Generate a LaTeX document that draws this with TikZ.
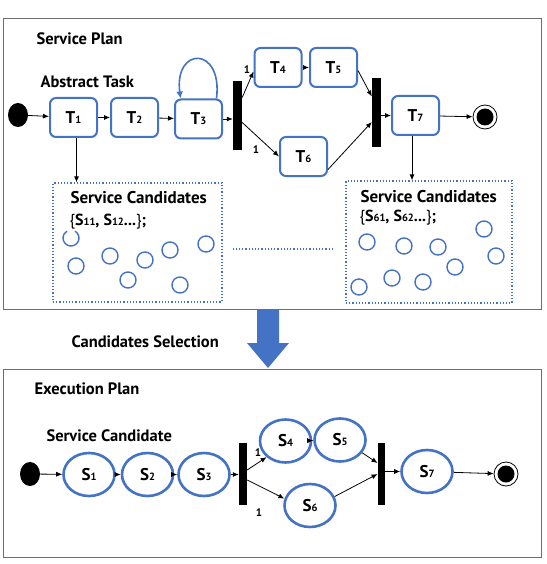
\documentclass[tikz,border=0pt]{standalone}
\usepackage{fontspec}
\setmainfont{PT Sans}
\usetikzlibrary{arrows.meta,shapes.geometric}
\definecolor{obl}{RGB}{68,114,196}
\definecolor{frm}{RGB}{110,110,110}
\newcommand\sbs[1]{{\fontsize{10.5}{10.5}\selectfont #1}}
\newcommand\lbr{{\mdseries\{}}
\newcommand\rbr{{\mdseries\}}}
\begin{document}
\begin{tikzpicture}[x=1pt,y=-1pt,
  every node/.style={font=\bfseries},
  title/.style={anchor=west,font=\bfseries\fontsize{16.5}{16.5}\selectfont},
  task/.style={draw=obl,line width=2pt,rounded corners=6pt,minimum width=47pt,minimum height=39pt,inner sep=0pt,font=\bfseries\fontsize{17}{17}\selectfont},
  svc/.style={draw=obl,line width=2.6pt,ellipse,minimum width=51pt,minimum height=43pt,inner sep=0pt,font=\bfseries\fontsize{17}{17}\selectfont},
  barr/.style={fill=black,inner sep=0pt,minimum width=9pt,minimum height=69pt},
  startn/.style={ellipse,fill=black,inner sep=0pt,minimum width=20pt,minimum height=24pt},
  endn/.style={circle,draw=black,line width=0.8pt,inner sep=0pt,minimum size=24pt,path picture={\fill[black] (path picture bounding box.center) circle (8.5pt);}},
  arr/.style={-{Latex[length=6pt,width=5pt]},line width=0.8pt},
  cbox/.style={draw=obl,dotted,line width=1.2pt,inner sep=0pt},
  cand/.style={draw=obl,line width=1.4pt},
  lbl/.style={font=\bfseries\fontsize{11}{11}\selectfont,inner sep=0pt}
]
\useasboundingbox (0,0) rectangle (546,564);
% frames
\draw[frm,line width=1pt] (3,19) rectangle (541,309);
\draw[frm,line width=1pt] (3,369) rectangle (541,557);
% titles
\node[title] (tsp) at (33,39) {Service Plan};
\node[title] (tat) at (37,82) {Abstract Task};
\node[title] (tcs) at (68,342) {Candidates Selection};
\node[title] (tep) at (31,389) {Execution Plan};
\node[title] (tsc) at (43,436) {Service Candidate};
% top plan
\node[startn] (st) at (18,115) {};
\node[task] (t1) at (73.5,117.5) {T\sbs{1}};
\node[task] (t2) at (134.5,117.5) {T\sbs{2}};
\node[task] (t3) at (198.5,119) {T\sbs{3}};
\node[barr] (b1) at (237.5,115.5) {};
\node[task] (t4) at (278,67.5) {T\sbs{4}};
\node[task] (t5) at (333.5,67.5) {T\sbs{5}};
\node[task] (t6) at (303.5,156.5) {T\sbs{6}};
\node[barr] (b2) at (376.5,112.5) {};
\node[task] (t7) at (415.5,115.5) {T\sbs{7}};
\node[endn] (en) at (485,117) {};
\draw[arr] (st) -- (t1);
\draw[arr] (t1) -- (t2);
\draw[arr] (t2) -- (t3);
\draw[arr] (t3.east) -- (t3.east -| b1.west);
\draw[arr] ([yshift=18pt]b1.east) -- ([yshift=-4pt]t4.west);
\draw[arr] ([yshift=-7pt]b1.east) -- (t6.west);
\draw[arr] (t4) -- (t5);
\draw[arr] ([yshift=-3pt]t5.east) -- ([yshift=16pt]b2.west);
\draw[arr] ([yshift=-13pt]t6.east) -- ([yshift=-9.5pt]b2.west);
\draw[arr] (t7.west -| b2.east) -- (t7.west);
\draw[arr] (t7) -- (en);
\draw[obl,line width=1.6pt,-{Latex[length=7pt,width=7pt]}] ([xshift=18pt]t3.north) .. controls (223,46) and (174,46) .. ([xshift=-18pt]t3.north);
\node[lbl] (l1) at (247,70) {1};
\node[lbl] (l2) at (256,150) {1};
% candidate boxes
\node[cbox,minimum width=169pt,minimum height=119pt] (cb1) at (137.5,242.5) {};
\node[cbox,minimum width=166pt,minimum height=122pt] (cb2) at (429,242) {};
\draw[arr] ([xshift=3pt]t1.south) -- ([xshift=3pt]t1.south |- cb1.north);
\draw[arr] ([xshift=-3.5pt]t7.south) -- ([xshift=-3.5pt]t7.south |- cb2.north);
\draw[obl,dotted,line width=1.2pt] ([xshift=10pt,yshift=-6.5pt]cb1.east) -- ([xshift=-11pt,yshift=-7pt]cb2.west);
\node[anchor=west,font=\bfseries\fontsize{17}{17}\selectfont] (sc1) at (67,198) {Service Candidates};
\node[anchor=west,font=\bfseries\fontsize{16}{16}\selectfont] (sl1) at (66,222) {\lbr S\sbs{11}, S\sbs{12}...\rbr;};
\node[anchor=west,font=\bfseries\fontsize{17}{17}\selectfont] (sc2) at (357,197) {Service Candidates};
\node[anchor=west,font=\bfseries\fontsize{16}{16}\selectfont] (sl2) at (356,218) {\lbr S\sbs{61}, S\sbs{62}...\rbr;};
\draw[cand] (75,231.1) arc[start angle=-60,end angle=240,radius=8];
\foreach \p in {(76,266),(110,256),(145,260),(170,250),(206,244),(128,280),(180,285)}
  \draw[cand] \p circle (8pt);
\foreach \p in {(367,242),(404,246),(438,247),(484,229),(496,256),(455,267),(359,287),(392,278),(423,282)}
  \draw[cand] \p circle (8pt);
% big arrow
\fill[obl] (257,310) -- (279,310) -- (279,343) -- (289,343) -- (268,368) -- (247,343) -- (257,343) -- cycle;
% execution plan
\node[startn] (st2) at (30,474) {};
\node[svc] (s1) at (89,474.5) {S\sbs{1}};
\node[svc] (s2) at (147.5,474.5) {S\sbs{2}};
\node[svc] (s3) at (204,474.5) {S\sbs{3}};
\node[barr,minimum width=8pt,minimum height=62pt] (b3) at (243,474) {};
\node[svc] (s4) at (285.5,441) {S\sbs{4}};
\node[svc] (s5) at (340,440) {S\sbs{5}};
\node[svc] (s6) at (310,505.5) {S\sbs{6}};
\node[barr,minimum width=7.5pt,minimum height=62pt] (b4) at (381.5,474) {};
\node[svc] (s7) at (427,471.5) {S\sbs{7}};
\node[endn] (en2) at (506,474) {};
\draw[arr] (st2) -- (s1);
\draw[arr] (s1) -- (s2);
\draw[arr] (s2) -- (s3);
\draw[arr] (s3.east) -- (s3.east -| b3.west);
\draw[arr] ([yshift=4pt]b3.east) -- (s4.south west);
\draw[arr] ([yshift=-6pt]b3.east) -- (s6.165);
\draw[arr] (s4) -- (s5);
\draw[arr] (s5.-30) -- ([yshift=11pt]b4.west);
\draw[arr] (s6.20) -- (b4.west);
\draw[arr] (s7.west -| b4.east) -- (s7.west);
\draw[arr] (s7) -- (en2);
\node[lbl] (l3) at (258,453) {1};
\node[lbl] (l4) at (259,513) {1};
\end{tikzpicture}
\end{document}
